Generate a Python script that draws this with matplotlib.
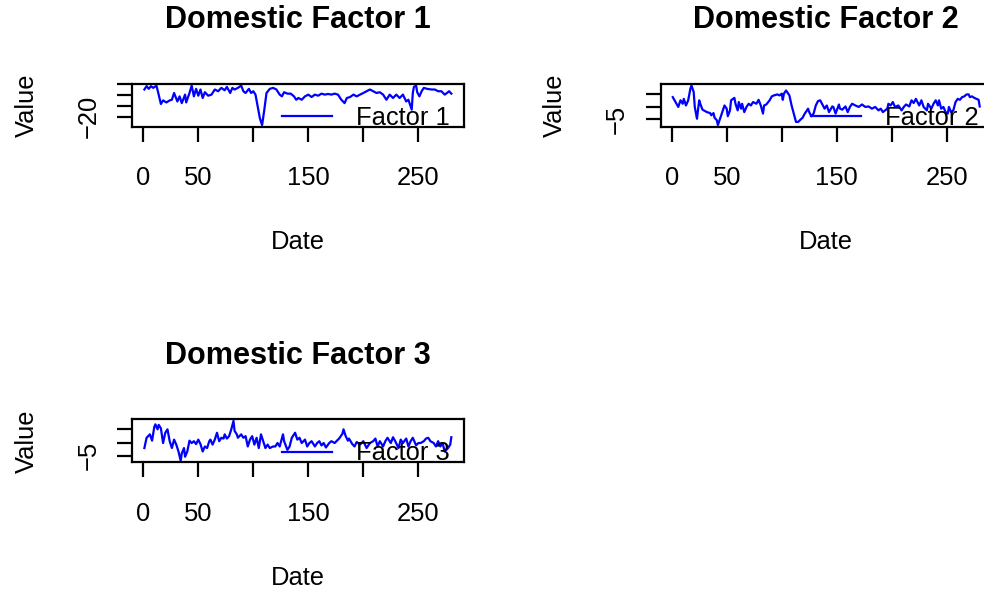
import numpy as np
import matplotlib
matplotlib.use('Agg')
import matplotlib.pyplot as plt

plt.rcParams['font.family'] = ['Liberation Sans', 'DejaVu Sans']

W, H = 984, 590  # px

# Domestic Factor 1 (index, value)
f1_dates = [1, 3, 5, 7, 9, 12, 14, 16, 18, 21, 24, 26, 28, 31, 33, 35, 38, 39, 42, 44,
            46, 48, 50, 52, 54, 56, 59, 62, 65, 68, 71, 74, 76, 79, 81, 83, 86, 89, 91, 93,
            96, 98, 100, 102, 104, 106, 108, 110, 112, 115, 118, 121, 124, 126, 128, 131, 134, 137, 139, 141,
            144, 147, 150, 153, 156, 159, 162, 165, 168, 171, 174, 177, 180, 183, 185, 188, 191, 194, 197, 200,
            203, 206, 209, 212, 215, 218, 221, 224, 227, 230, 233, 236, 239, 241, 244, 245, 246, 248, 249, 251,
            253, 255, 258, 262, 265, 268, 271, 274, 276, 278, 280]
f1_vals = [5.0, 8.1, 5.6, 8.1, 6.5, 8.5, 0.3, -8.3, -5.0, -6.9, -5.0, -4.4, 1.8, -6.0, -1.3, -7.5, 0.3, -6.9, 1.8, 8.6,
           -1.3, 5.6, -0.7, 5.0, -2.8, 2.5, -0.7, 0.3, 5.0, 3.4, 6.5, 4.3, 7.4, 1.8, 6.5, 5.0, 6.5, 8.6, 3.4, 1.8,
           5.6, 1.8, 3.4, 0.3, -10.6, -21.5, -27.7, -13.7, 1.8, 5.6, 6.5, 5.0, 0.3, -1.3, 2.5, 1.2, 1.2, -1.3, -4.4, -2.8,
           -4.4, -1.3, 0.3, -1.9, 0.3, -0.7, 1.2, 0.3, 0.9, 0.3, 1.2, 0.3, -4.4, -7.5, -2.8, -1.9, 0.3, -1.3, 0.3, 1.8,
           3.4, 5.0, 3.4, 1.8, 2.5, 0.3, -4.4, 0.3, -2.8, 0.3, -2.8, 0.3, -6.0, -4.4, -13.5, 1.8, 7.4, 8.6, 2.5, -1.3,
           3.4, 6.5, 5.6, 5.0, 5.0, 3.4, 3.4, 0.3, 1.8, 3.4, 1.2]

# Domestic Factor 2
f2_dates = [1, 3, 6, 8, 10, 11, 13, 15, 17, 18, 20, 21, 23, 25, 26, 28, 30, 32, 35, 36,
            38, 39, 41, 42, 44, 46, 48, 50, 51, 53, 54, 57, 58, 60, 61, 63, 64, 66, 68, 70,
            72, 74, 77, 79, 81, 83, 84, 86, 89, 91, 93, 96, 98, 100, 101, 102, 104, 106, 107, 109,
            111, 113, 115, 117, 119, 121, 124, 125, 127, 129, 131, 133, 135, 137, 139, 141, 143, 146, 147, 149,
            152, 153, 155, 158, 160, 162, 164, 167, 170, 173, 176, 179, 182, 185, 188, 190, 192, 194, 196, 197,
            199, 201, 203, 206, 209, 211, 213, 216, 218, 220, 222, 225, 227, 229, 232, 233, 236, 238, 240, 242,
            243, 245, 247, 249, 251, 252, 254, 256, 258, 260, 262, 264, 266, 268, 270, 271, 273, 275, 277, 279,
            280]
f2_vals = [3.9, 2.3, -0.1, 2.6, 1.2, 3.2, 0.5, 2.6, 7.3, 8.6, 6.0, -0.1, -4.9, 2.6, 1.2, -1.2, -1.7, -2.2, -2.6, -3.5,
           -2.6, -4.5, -5.5, -7.5, -4.9, -2.2, 0.5, -0.8, -3.9, -1.5, 2.6, 3.6, 1.2, -1.5, 1.9, -0.8, 1.2, -2.2, -0.1, 1.2,
           0.5, 1.9, 1.2, 2.8, 0.5, -2.8, 0.5, 0.9, 2.6, 4.2, 4.6, 5.0, 4.6, 5.3, 2.8, 5.3, 6.6, 5.3, 4.6, 0.5,
           -2.8, -6.2, -6.2, -5.3, -4.5, -2.8, -0.8, -2.2, -3.9, -2.8, 0.5, 2.3, 2.6, 0.9, -0.8, 0.5, -2.2, 0.1, -0.1, -2.8,
           0.9, -0.8, -1.2, 0.1, -2.2, -0.1, 1.2, 0.5, -0.1, 0.9, -0.1, 0.1, -0.8, -0.1, -1.5, -0.8, -2.2, -1.5, -0.8, 1.2,
           0.5, 1.9, -0.1, 0.5, -1.5, -0.1, 0.9, 0.1, 2.6, 1.5, 3.2, 0.5, 2.6, -0.1, -1.5, 1.2, -0.8, 1.2, 2.6, 0.5,
           2.6, -0.8, -0.1, -2.2, -2.8, -0.1, -2.2, -1.5, 1.9, 3.2, 2.8, 3.9, 4.2, 5.0, 5.0, 3.9, 4.2, 3.6, 3.2, 2.8,
           0.1]

# Domestic Factor 3
f3_dates = [1, 3, 6, 8, 10, 11, 13, 14, 16, 18, 20, 22, 24, 26, 28, 30, 32, 34, 35, 37,
            38, 40, 42, 44, 46, 48, 50, 52, 54, 56, 58, 60, 61, 63, 65, 67, 69, 71, 73, 74,
            76, 78, 80, 82, 83, 85, 86, 89, 91, 93, 95, 97, 99, 101, 103, 105, 107, 109, 111, 113,
            115, 118, 120, 122, 124, 127, 128, 131, 133, 135, 138, 140, 142, 144, 147, 149, 151, 153, 156, 158,
            160, 162, 164, 166, 169, 171, 174, 176, 178, 181, 182, 184, 186, 187, 190, 192, 194, 197, 200, 203,
            206, 209, 211, 213, 215, 218, 220, 222, 225, 227, 229, 232, 234, 236, 239, 241, 243, 245, 248, 250,
            252, 255, 257, 259, 261, 264, 266, 268, 270, 272, 274, 277, 279, 280]
f3_vals = [-2.1, 1.8, 3.1, 0.7, 5.9, 6.9, 5.0, 6.7, 5.4, -0.2, 3.7, 5.0, 0.5, -2.1, 1.1, -0.8, -3.4, -6.9, -4.1, -2.1,
           -5.4, -3.4, 0.7, -0.2, 0.5, -0.6, 1.1, -0.6, -3.4, -1.5, -2.1, 0.5, 1.1, -0.8, 1.1, 3.7, 0.5, 1.8, 1.5, 3.1,
           1.5, 2.4, 5.0, 8.2, 4.4, 3.1, 1.8, 3.1, 1.8, 2.4, -1.5, 1.1, 2.4, -0.8, 1.8, -2.1, 3.1, 0.5, -2.1, -0.8,
           -2.1, -1.5, -1.5, -0.2, -1.5, 3.1, 0.5, -2.8, -1.5, 1.8, 3.7, 1.1, 1.8, -0.2, 1.1, -1.5, -0.2, 0.5, -1.5, -0.2,
           0.5, -1.1, -0.2, -1.9, -0.2, 0.5, -0.2, 0.7, 1.5, 3.3, 5.0, 2.4, 0.7, 1.5, -0.6, -1.5, 0.2, -0.8, 0.5, -2.1,
           -0.2, 0.5, 1.5, -1.5, 0.5, -1.5, 0.5, 1.8, -0.2, 2.0, 0.5, -2.1, 1.1, -0.2, 1.5, -1.5, 0.5, 1.8, -1.1, -0.2,
           -0.2, 0.5, 1.5, 1.8, 0.5, -0.2, -1.5, 0.5, -1.5, -0.2, -3.4, -2.1, -0.8, 2.0]

x_ticks = [0, 50, 100, 150, 200, 250]
x_ticklabels = ['0', '50', '', '150', '', '250']

panels = [
    # title, legend label, dates, values, yticks, yticklabels, (left, top, height) px
    ('Domestic Factor 1', 'Factor 1', f1_dates, f1_vals, [-20, -10, 0, 10], ['\u221220', '', '', ''], (132.1, 84.0, 42.7)),
    ('Domestic Factor 2', 'Factor 2', f2_dates, f2_vals, [-5, 0, 5], ['\u22125', '', ''], (660.5, 84.0, 42.7)),
    ('Domestic Factor 3', 'Factor 3', f3_dates, f3_vals, [-5, 0, 5], ['\u22125', '', ''], (132.1, 419.3, 43.0)),
]

FS = 18.4
LW = 1.6
AX_W = 331.5

fig = plt.figure(figsize=(W / 100, H / 100), dpi=100)

for title, lab, dates, vals, yt, ytl, (left, top, h) in panels:
    ax = fig.add_axes([left / W, 1 - (top + h) / H, AX_W / W, h / H])
    ax.plot(dates, vals, color='blue', lw=LW, label=lab)
    ax.margins(x=0.04, y=0.04)

    ax.set_xticks(x_ticks)
    ax.set_xticklabels(x_ticklabels, fontsize=FS)
    ax.set_yticks(yt)
    ax.set_yticklabels(ytl, fontsize=FS, rotation=90, va='center')
    ax.tick_params(axis='both', length=10.8, width=LW, color='black')
    ax.tick_params(axis='x', pad=17.6)
    ax.tick_params(axis='y', pad=12.0)
    for s in ax.spines.values():
        s.set_linewidth(LW)

    ax.set_title(title, fontsize=FS * 1.2, fontweight='bold', pad=40.0)
    ax.set_xlabel('Date', fontsize=FS)
    ax.xaxis.set_label_coords(0.5, -(229.7 - 126.7) / 42.7)
    ax.set_ylabel('Value', fontsize=FS)
    ax.yaxis.set_label_coords(-(132.1 - 38.7) / AX_W, 0.5)

    ax.legend(loc='center left', bbox_to_anchor=(0.453, 0.205), frameon=False,
              fontsize=FS, borderpad=0, borderaxespad=0,
              handlelength=1.96, handletextpad=0.94)

fig.savefig('out.png', dpi=100)
